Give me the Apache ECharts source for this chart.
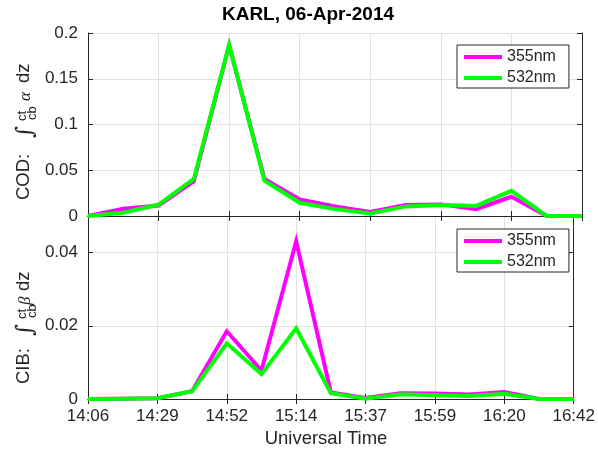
<!DOCTYPE html>
<html>
<head>
<meta charset="utf-8">
<style>
  html, body { margin: 0; padding: 0; background: #fff; }
  #chart { width: 598px; height: 450px; }
</style>
<script src="https://cdn.jsdelivr.net/npm/echarts@6/dist/echarts.min.js"></script>
</head>
<body>
<div id="chart"></div>
<script>
// Sample times (UT), one every ~11 minutes
const times = ['14:06','14:17','14:29','14:40','14:52','15:03','15:14','15:26',
               '15:37','15:48','15:59','16:09','16:20','16:31','16:42'];

// Cloud optical depth, integral of extinction from cloud base to cloud top
const cod355 = [0, 0.008, 0.0115, 0.038, 0.1865, 0.0405, 0.018, 0.0105,
                0.0045, 0.012, 0.0127, 0.0075, 0.021, 0, 0];
const cod532 = [0, 0.0035, 0.0125, 0.0405, 0.187, 0.0385, 0.0145, 0.0075,
                0.0027, 0.0105, 0.012, 0.011, 0.0275, 0, 0];

// Cloud integrated backscatter
const cib355 = [0, 0.0001, 0.0002, 0.0021, 0.0185, 0.0078, 0.0431, 0.0018,
                0.0003, 0.0016, 0.0015, 0.0012, 0.0019, 0, 0];
const cib532 = [0, 0.0001, 0.0002, 0.0021, 0.0152, 0.0068, 0.0193, 0.0016,
                0.0001, 0.0013, 0.0010, 0.0008, 0.0014, 0, 0];

const seriesNames = ['355nm', '532nm'];
const seriesColors = ['#ff00ff', '#00ff00'];

const AX = '#262626';
const GRIDC = '#e3e3e3';
const FONT = 'Liberation Sans, Arial, sans-serif';

const chart = echarts.init(document.getElementById('chart'), null, { renderer: 'canvas' });

function xAxisPair(gridIndex, showLabels) {
  return [
    {
      type: 'category', gridIndex, position: 'bottom', data: times, boundaryGap: false,
      axisLine: { lineStyle: { color: AX, width: 1 } },
      axisTick: { inside: true, length: 5, interval: 1, lineStyle: { color: AX } },
      axisLabel: { show: showLabels, interval: 1, margin: 9, color: AX, fontSize: 17, fontFamily: FONT },
      splitLine: { show: true, interval: 1, lineStyle: { color: GRIDC } }
    },
    {
      type: 'category', gridIndex, position: 'top', data: times, boundaryGap: false,
      axisLine: { lineStyle: { color: AX, width: 1 } },
      axisTick: { inside: true, length: 5, interval: 1, lineStyle: { color: AX } },
      axisLabel: { show: false }, splitLine: { show: false }
    }
  ];
}

function yAxisPair(gridIndex, max, interval) {
  return [
    {
      type: 'value', gridIndex, position: 'left', min: 0, max, interval,
      axisLine: { show: true, lineStyle: { color: AX, width: 1 } },
      axisTick: { show: true, inside: true, length: 5, lineStyle: { color: AX } },
      axisLabel: { margin: 10, color: AX, fontSize: 17, fontFamily: FONT, showMaxLabel: gridIndex === 0 },
      splitLine: { show: true, lineStyle: { color: GRIDC } }
    },
    {
      type: 'value', gridIndex, position: 'right', min: 0, max, interval,
      axisLine: { show: true, lineStyle: { color: AX, width: 1 } },
      axisTick: { show: true, inside: true, length: 5, lineStyle: { color: AX } },
      axisLabel: { show: false }, splitLine: { show: false }
    }
  ];
}

function lineSeries(name, color, data, axisBase) {
  return {
    name, type: 'line', data,
    xAxisIndex: axisBase, yAxisIndex: axisBase,
    symbol: 'none', smooth: false,
    lineStyle: { color, width: 4, join: 'miter' },
    itemStyle: { color },
    emphasis: { disabled: true },
    animation: false
  };
}

function legendAt(top) {
  return {
    data: seriesNames, orient: 'vertical', left: 457, top,
    icon: 'rect', itemWidth: 38, itemHeight: 4, itemGap: 3,
    padding: [3, 13, 1, 7],
    backgroundColor: '#fff', borderColor: AX, borderWidth: 1,
    textStyle: { color: AX, fontSize: 16, fontFamily: FONT, lineHeight: 18 },
    selectedMode: false
  };
}

// Rotated y-axis label: prefix, integral sign with limits, symbol, "dz".
// pos holds the start (lower end) of each piece along the vertical.
function yLabel(prefix, symbol, pos) {
  const rot = Math.PI / 2;
  const piece = (text, x, y, font) => ({
    type: 'text', x, y, rotation: rot, silent: true,
    style: { text, font, fill: AX, align: 'left', verticalAlign: 'middle' }
  });
  return [
    piece(prefix, 24, pos.prefix, '18.5px ' + FONT),
    piece('\u222B', 26, pos.integral, 'italic 23px DejaVu Serif, serif'),
    piece('ct', 22, pos.scripts, '13px ' + FONT),
    piece('cb', 32, pos.scripts - 1, '13px ' + FONT),
    piece(symbol, 26, pos.symbol, 'italic 17px Liberation Serif, serif'),
    piece('dz', 24, pos.dz, '18.5px ' + FONT)
  ];
}

const option = {
  backgroundColor: '#fff',
  animation: false,
  grid: [
    { left: 88, right: 16, top: 33, height: 183 },
    { left: 88, right: 16, top: 216, height: 183 }
  ],
  xAxis: [...xAxisPair(0, false), ...xAxisPair(1, true)],
  yAxis: [...yAxisPair(0, 0.2, 0.05), ...yAxisPair(1, 0.05, 0.02)],
  legend: [legendAt(45), legendAt(229)],
  series: [
    lineSeries(seriesNames[0], seriesColors[0], cod355, 0),
    lineSeries(seriesNames[1], seriesColors[1], cod532, 0),
    lineSeries(seriesNames[0], seriesColors[0], cib355, 2),
    lineSeries(seriesNames[1], seriesColors[1], cib532, 2)
  ],
  graphic: [
    { type: 'text', x: 308, y: 15, silent: true,
      style: { text: 'KARL, 06-Apr-2014', font: 'bold 19px ' + FONT, fill: '#000', align: 'center', verticalAlign: 'middle' } },
    { type: 'text', x: 326, y: 439, silent: true,
      style: { text: 'Universal Time', font: '18.5px ' + FONT, fill: AX, align: 'center', verticalAlign: 'middle' } },
    ...yLabel('COD:', '\u03B1', { prefix: 200, integral: 138, scripts: 121, symbol: 101, dz: 83 }),
    ...yLabel('CIB:', '\u03B2', { prefix: 384, integral: 336, scripts: 319, symbol: 305, dz: 291 })
  ]
};

chart.setOption(option);
</script>
</body>
</html>
